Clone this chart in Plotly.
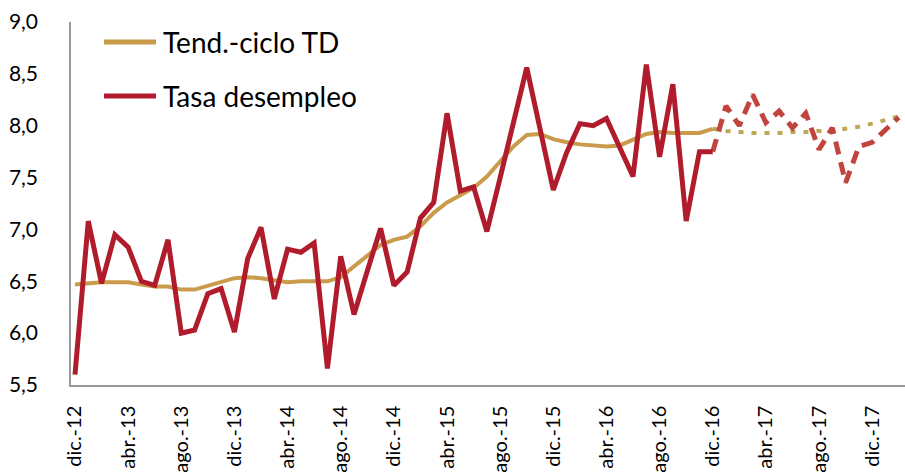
import plotly.graph_objects as go

# Monthly index 0 = dic.-12
tick_labels = ["dic.-12", "abr.-13", "ago.-13", "dic.-13", "abr.-14", "ago.-14",
               "dic.-14", "abr.-15", "ago.-15", "dic.-15", "abr.-16", "ago.-16",
               "dic.-16", "abr.-17", "ago.-17", "dic.-17"]

# Tasa desempleo, observed (dic.-12 .. dic.-16)
tasa_obs = [5.60, 7.08, 6.48, 6.95, 6.83, 6.50, 6.46, 6.90, 6.00, 6.03,
            6.38, 6.43, 6.01, 6.72, 7.02, 6.33, 6.81, 6.78, 6.87, 5.66,
            6.74, 6.18, 6.60, 7.01, 6.46, 6.59, 7.11, 7.26, 8.12, 7.37,
            7.41, 6.98, 7.50, 8.03, 8.56, 7.97, 7.38, 7.74, 8.02, 8.00,
            8.07, 7.79, 7.51, 8.59, 7.70, 8.40, 7.08, 7.75, 7.75]
# Tasa desempleo, projected (dic.-16 .. feb.-18)
tasa_proj = [7.75, 8.19, 8.00, 8.30, 8.03, 8.14, 7.98, 8.12, 7.77, 7.98,
             7.45, 7.80, 7.84, 7.96, 8.08]

# Tendencia-ciclo, observed (dic.-12 .. dic.-16)
tend_obs = [6.47, 6.48, 6.49, 6.49, 6.49, 6.47, 6.45, 6.45, 6.42, 6.42,
            6.46, 6.50, 6.53, 6.54, 6.53, 6.51, 6.49, 6.50, 6.50, 6.50,
            6.54, 6.64, 6.75, 6.85, 6.90, 6.93, 7.03, 7.16, 7.26, 7.33,
            7.40, 7.51, 7.65, 7.80, 7.91, 7.92, 7.87, 7.84, 7.82, 7.81,
            7.80, 7.81, 7.86, 7.92, 7.94, 7.93, 7.93, 7.93, 7.97]
# Tendencia-ciclo, projected (dic.-16 .. feb.-18)
tend_proj = [7.97, 7.95, 7.94, 7.93, 7.93, 7.93, 7.94, 7.94, 7.95, 7.95,
             7.97, 7.99, 8.02, 8.06, 8.09]

x_obs = list(range(len(tasa_obs)))
x_proj = list(range(len(tasa_obs) - 1, len(tasa_obs) - 1 + len(tasa_proj)))
tick_vals = list(range(0, 4 * len(tick_labels), 4))

RED = "#B01C2B"
RED_PROJ = "#C2443E"
GOLD = "#C99B4B"
GOLD_PROJ = "#BFA656"
FONT = "Lato"

fig = go.Figure()
fig.add_trace(go.Scatter(x=x_proj, y=tend_proj, mode="lines",
                         line=dict(color=GOLD_PROJ, width=4, dash="5px,8px"),
                         showlegend=False, hoverinfo="skip"))
fig.add_trace(go.Scatter(x=x_obs, y=tend_obs, mode="lines", name="Tend.-ciclo TD",
                         line=dict(color=GOLD, width=4), showlegend=False))
fig.add_trace(go.Scatter(x=x_proj, y=tasa_proj, mode="lines",
                         line=dict(color=RED_PROJ, width=5, dash="13px,8px"),
                         showlegend=False, hoverinfo="skip"))
fig.add_trace(go.Scatter(x=x_obs, y=tasa_obs, mode="lines", name="Tasa desempleo",
                         line=dict(color=RED, width=5), showlegend=False))

# Manual legend (paper coordinates)
L, R, T, B = 71, 905, 22, 385
def px(xp):
    return (xp - L) / (R - L)
def py(yp):
    return (B - yp) / (B - T)

for name, col, yy in [("Tend.-ciclo TD", GOLD, 42), ("Tasa desempleo", RED, 96)]:
    fig.add_shape(type="line", xref="paper", yref="paper",
                  x0=px(104), x1=px(156), y0=py(yy), y1=py(yy),
                  line=dict(color=col, width=5))
    fig.add_annotation(text=name, xref="paper", yref="paper", x=px(161), y=py(yy),
                       xanchor="left", yanchor="middle", showarrow=False,
                       font=dict(family=FONT, size=28, color="#000000"))

fig.update_layout(
    width=905, height=475,
    margin=dict(l=L, r=0, t=T, b=475 - B, autoexpand=False),
    paper_bgcolor="white", plot_bgcolor="white",
    font=dict(family=FONT, color="#000000"),
    showlegend=False,
)
fig.update_xaxes(
    range=[-0.3, 62.47], tickmode="array", tickvals=tick_vals, ticktext=tick_labels,
    tickangle=-90, showgrid=False, zeroline=False, showline=True,
    linecolor="#9A9A9A", linewidth=1.5, ticks="", ticklabelstandoff=11,
    tickfont=dict(family=FONT, size=20, color="#000000"), automargin=False,
)
fig.update_yaxes(
    range=[5.5, 9.0], tickmode="array",
    tickvals=[5.5, 6.0, 6.5, 7.0, 7.5, 8.0, 8.5, 9.0],
    ticktext=["5,5", "6,0", "6,5", "7,0", "7,5", "8,0", "8,5", "9,0"],
    showgrid=False, zeroline=False, showline=True,
    linecolor="#9A9A9A", linewidth=1.5, ticks="", ticklabelstandoff=27,
    tickfont=dict(family=FONT, size=21, color="#000000"), automargin=False,
)

fig.write_html("out.html", config={"displayModeBar": False},
               post_script="document.body.style.margin='0';document.body.style.overflow='hidden';")
